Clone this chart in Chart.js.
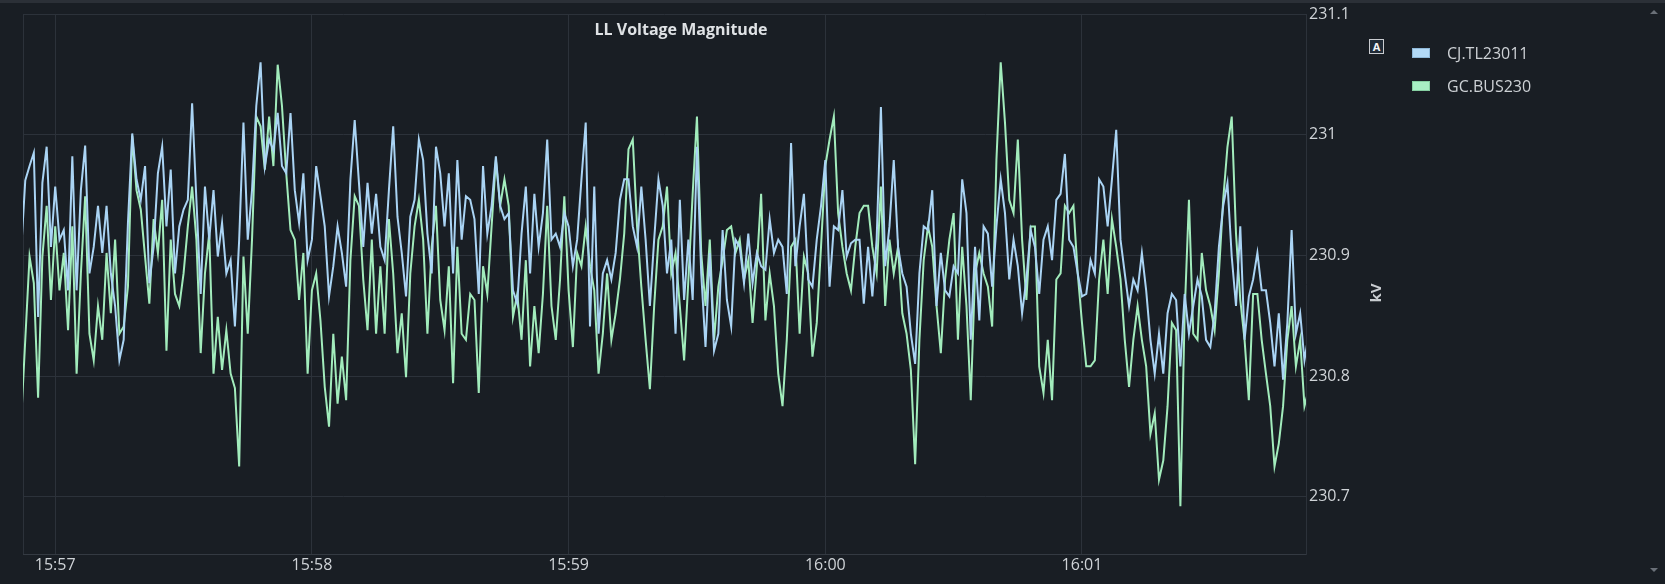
<!DOCTYPE html>
<html>
<head>
<meta charset="utf-8">
<script src="https://cdn.jsdelivr.net/npm/chart.js@4.4.0/dist/chart.umd.min.js"></script>
<style>
html,body{margin:0;padding:0;background:#191e24;width:1665px;height:584px;overflow:hidden;font-family:"Open Sans",sans-serif;}
#c{position:absolute;left:0;top:0;}
#topband{position:absolute;left:0;top:0;width:1665px;height:3px;background:#2b3037;}
#abox{position:absolute;left:1369px;top:39px;width:13px;height:13px;border:1px solid #c9ccd0;color:#f2f4f6;font-weight:700;font-size:11px;line-height:13px;text-align:center;background:#1f2a36;}
.lg{position:absolute;left:1412px;height:20px;}
.sw{position:absolute;left:0;width:18px;height:10px;box-sizing:border-box;}
.lt{position:absolute;left:35px;top:-7px;white-space:nowrap;color:#cdd1d5;font-size:16px;line-height:24px;}
.arr{position:absolute;left:1650px;width:0;height:0;border-left:4px solid transparent;border-right:4px solid transparent;}
</style>
</head>
<body>
<canvas id="c" width="1665" height="584"></canvas>
<div id="topband"></div>
<div id="abox">A</div>
<div class="lg" style="top:48px"><div class="sw" style="background:#b2d9f6;border:1px solid #8fb8d8"></div><div class="lt">CJ.TL23011</div></div>
<div class="lg" style="top:81px"><div class="sw" style="background:#a8efc4;border:1px solid #86cfa2"></div><div class="lt">GC.BUS230</div></div>
<div class="arr" style="top:10px;border-bottom:4px solid #6a7078"></div>
<div class="arr" style="top:568px;border-top:4px solid #6a7078"></div>
<script>
// time of first sample, seconds relative to 15:57:00, and spacing
const startSec = -8;
const stepSec = 1;
const seriesNames = ['CJ.TL23011', 'GC.BUS230'];
const xTickSeconds = [0, 60, 120, 180, 240];
const xTickLabels = ['15:57', '15:58', '15:59', '16:00', '16:01'];
const yTickValues = [230.7, 230.8, 230.9, 231.0, 231.1];
const yTickLabels = ['230.7', '230.8', '230.9', '231', '231.1'];
const chartTitle = 'LL Voltage Magnitude';
const yTitle = 'kV';

const blueVals = [
230.902,230.962,230.974,230.985,230.849,230.960,230.990,230.907,230.957,230.913,
230.921,230.871,230.982,230.871,230.954,230.991,230.885,230.907,230.941,230.902,
230.941,230.885,230.858,230.813,230.830,230.927,231.001,230.963,230.946,230.974,
230.877,230.907,230.968,230.990,230.924,230.971,230.885,230.924,230.938,230.946,
231.026,230.946,230.868,230.957,230.913,230.954,230.899,230.927,230.885,230.896,
230.841,230.913,231.010,230.913,230.954,231.024,231.060,230.974,230.996,230.987,
231.018,230.974,230.968,231.018,230.954,230.927,230.968,230.896,230.913,230.974,
230.949,230.924,230.866,230.891,230.924,230.902,230.874,230.963,231.012,230.960,
230.907,230.960,230.918,230.951,230.907,230.896,230.954,231.007,230.932,230.902,
230.866,230.932,230.946,230.996,230.979,230.918,230.885,230.990,230.968,230.924,
230.968,230.885,230.979,230.913,230.949,230.946,230.930,230.868,230.974,230.918,
230.941,230.982,230.941,230.930,230.935,230.871,230.860,230.918,230.957,230.885,
230.951,230.907,230.935,230.996,230.913,230.918,230.907,230.935,230.924,230.891,
230.913,230.963,231.010,230.841,230.957,230.835,230.885,230.896,230.880,230.902,
230.946,230.963,230.963,230.924,230.907,230.957,230.913,230.858,230.913,230.963,
230.941,230.885,230.913,230.835,230.946,230.863,230.913,230.863,230.990,230.885,
230.824,230.902,230.821,230.835,230.921,230.863,230.841,230.913,230.907,230.877,
230.918,230.877,230.902,230.891,230.888,230.930,230.902,230.913,230.907,230.868,
230.993,230.891,230.924,230.951,230.880,230.874,230.913,230.941,230.979,230.874,
230.924,230.921,230.954,230.899,230.910,230.913,230.913,230.860,230.907,230.866,
230.913,231.023,230.891,230.924,230.979,230.907,230.885,230.874,230.835,230.810,
230.885,230.924,230.921,230.954,230.858,230.902,230.871,230.866,230.891,230.885,
230.963,230.935,230.830,230.907,230.846,230.924,230.918,230.874,230.924,230.963,
230.935,230.880,230.913,230.891,230.852,230.880,230.921,230.907,230.868,230.913,
230.924,230.896,230.946,230.951,230.984,230.913,230.907,230.885,230.866,230.868,
230.896,230.885,230.963,230.957,230.924,230.963,231.004,230.913,230.885,230.858,
230.880,230.871,230.902,230.871,230.830,230.802,230.835,230.802,230.852,230.868,
230.863,230.808,230.868,230.835,230.858,230.880,230.866,230.830,230.824,230.852,
230.907,230.941,230.960,230.899,230.858,230.924,230.830,230.866,230.880,230.902,
230.871,230.871,230.844,230.808,230.852,230.797,230.844,230.921,230.835,230.852,
230.813,230.835
];

const greenVals = [
230.761,230.830,230.899,230.877,230.782,230.899,230.941,230.863,230.924,230.871,
230.902,230.838,230.924,230.802,230.885,230.949,230.835,230.813,230.858,230.830,
230.902,230.852,230.913,230.835,230.841,230.874,230.999,230.954,230.938,230.899,
230.860,230.930,230.902,230.946,230.821,230.913,230.868,230.858,230.885,230.924,
230.957,230.913,230.819,230.885,230.918,230.802,230.849,230.805,230.838,230.802,
230.790,230.725,230.899,230.835,230.913,231.015,231.007,230.971,231.015,230.974,
231.058,231.024,230.968,230.921,230.913,230.863,230.902,230.802,230.871,230.885,
230.846,230.791,230.758,230.835,230.777,230.816,230.780,230.896,230.949,230.941,
230.880,230.838,230.913,230.835,230.891,230.835,230.930,230.885,230.819,230.852,
230.799,230.885,230.924,230.946,230.913,230.835,230.907,230.941,230.863,230.838,
230.891,230.794,230.907,230.835,230.830,230.868,230.863,230.786,230.891,230.868,
230.924,230.979,230.941,230.963,230.941,230.849,230.868,230.830,230.896,230.808,
230.858,230.819,230.868,230.941,230.858,230.830,230.880,230.949,230.871,230.824,
230.902,230.891,230.924,230.891,230.871,230.802,230.835,230.885,230.830,230.852,
230.880,230.918,230.988,230.996,230.924,230.874,230.830,230.789,230.858,230.913,
230.924,230.957,230.885,230.902,230.858,230.813,230.880,230.951,231.015,230.902,
230.858,230.913,230.830,230.874,230.896,230.921,230.924,230.902,230.913,230.880,
230.896,230.844,230.891,230.951,230.846,230.885,230.858,230.802,230.775,230.830,
230.907,230.913,230.835,230.899,230.885,230.816,230.844,230.907,230.974,230.996,
231.015,230.935,230.907,230.885,230.871,230.907,230.935,230.941,230.941,230.907,
230.885,230.957,230.858,230.913,230.885,230.907,230.852,230.835,230.805,230.727,
230.830,230.896,230.924,230.907,230.858,230.819,230.880,230.913,230.935,230.830,
230.907,230.858,230.780,230.885,230.902,230.885,230.874,230.841,230.979,231.060,
231.010,230.946,230.935,230.996,230.913,230.863,230.924,230.924,230.808,230.786,
230.830,230.780,230.880,230.885,230.941,230.935,230.941,230.885,230.844,230.808,
230.808,230.813,230.880,230.913,230.868,230.930,230.907,230.880,230.830,230.791,
230.830,230.858,230.830,230.808,230.752,230.769,230.714,230.730,230.775,230.844,
230.838,230.692,230.852,230.946,230.835,230.830,230.902,230.871,230.858,230.838,
230.885,230.946,230.990,231.015,230.918,230.863,230.830,230.780,230.868,230.868,
230.830,230.802,230.775,230.725,230.744,230.775,230.830,230.858,230.808,230.830,
230.775,230.789
];

const toPoints = vals => vals.map((v, i) => ({x: startSec + i * stepSec, y: v}));

const gridColor = '#2c323a';
const textColor = '#cfd3d7';
const tickFont = {family: 'Open Sans', size: 16};

const overlay = {
  id: 'overlay',
  beforeDatasetsDraw(chart) {
    const {ctx, chartArea: a} = chart;
    ctx.save();
    ctx.strokeStyle = gridColor;
    ctx.lineWidth = 1;
    ctx.beginPath();
    ctx.moveTo(a.left + 0.5, a.top);
    ctx.lineTo(a.left + 0.5, a.bottom);
    ctx.stroke();
    ctx.restore();
  },
  afterDraw(chart) {
    const {ctx, chartArea: a} = chart;
    ctx.save();
    ctx.fillStyle = '#dfe2e5';
    ctx.font = 'bold 16px "Open Sans"';
    ctx.textAlign = 'center';
    ctx.textBaseline = 'middle';
    ctx.fillText(chartTitle, 681, 30);
    ctx.translate(a.right + 71, 293);
    ctx.rotate(-Math.PI / 2);
    ctx.font = 'bold 15px "Open Sans"';
    ctx.fillStyle = '#c9cdd1';
    ctx.fillText(yTitle, 0, 0);
    ctx.restore();
  }
};

new Chart(document.getElementById('c'), {
  type: 'line',
  data: {
    datasets: [
      {label: seriesNames[0], data: toPoints(blueVals), borderColor: '#aad4f4', backgroundColor: '#b2d9f6', borderWidth: 2, pointRadius: 0, tension: 0, fill: false},
      {label: seriesNames[1], data: toPoints(greenVals), borderColor: '#a2ecbc', backgroundColor: '#a8efc4', borderWidth: 2, pointRadius: 0, tension: 0, fill: false}
    ]
  },
  options: {
    responsive: false,
    animation: false,
    events: [],
    layout: {padding: {left: 23, top: 14, right: 279, bottom: 0}},
    plugins: {legend: {display: false}, title: {display: false}, tooltip: {enabled: false}},
    scales: {
      x: {
        type: 'linear', position: 'bottom', min: -7.53, max: 292.36,
        afterBuildTicks: s => { s.ticks = xTickSeconds.map(v => ({value: v})); },
        afterFit: s => { s.height = 30; s.paddingLeft = 0; s.paddingRight = 0; },
        grid: {color: gridColor, drawTicks: false},
        border: {color: '#343a42'},
        ticks: {color: textColor, font: tickFont, padding: 2, maxRotation: 0, autoSkip: false, callback: (v, i) => xTickLabels[i]}
      },
      y: {
        type: 'linear', position: 'right', min: 230.6525, max: 231.1,
        afterBuildTicks: s => { s.ticks = yTickValues.map(v => ({value: v})); },
        afterFit: s => { s.width = 80; s.paddingTop = 0; s.paddingBottom = 0; },
        grid: {color: gridColor, drawTicks: false},
        border: {color: gridColor},
        ticks: {color: textColor, font: tickFont, padding: 3, callback: (v, i) => yTickLabels[i]}
      }
    }
  },
  plugins: [overlay]
});
</script>
</body>
</html>
